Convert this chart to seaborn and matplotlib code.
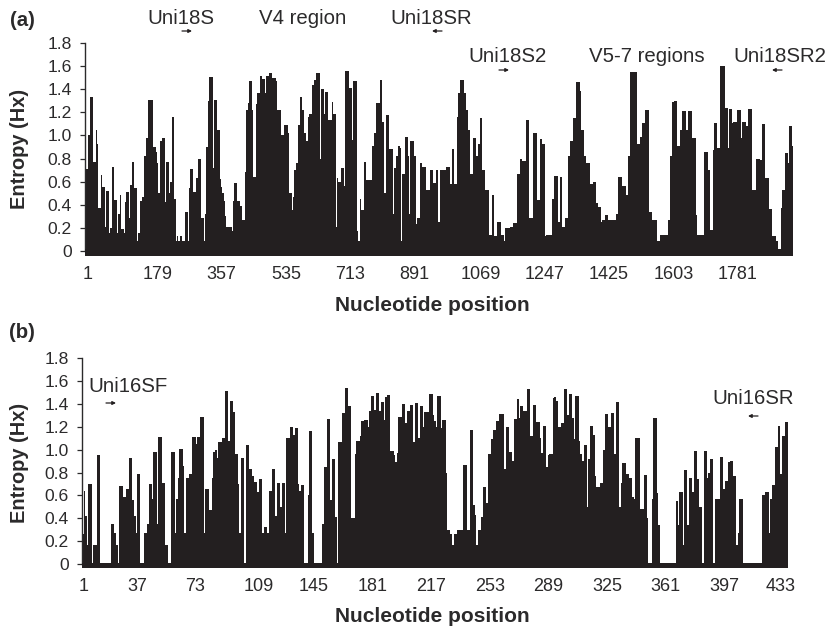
import matplotlib
matplotlib.use("Agg")
import matplotlib.pyplot as plt
import pandas as pd
import seaborn as sns

# 18S entropy, left to right
entropy_18s = [
    .71, .71, 1.0, 1.0, 1.33, 1.33, .77, .77, 1.05, .93, .37, .37, .66, .55, .55, .21, .52, .52, .15, .2, .73, .73, .44, .44, .15,
    .32, .48, .19, .19, .15, .42, .51, .51, .28, .57, .77, .77, .54, .54, .08, .15, .43, .43, .47, .82, .82, .98, 1.31, 1.31, 1.31,
    1.31, .9, .9, .86, .76, .5, .95, .95, .98, .98, .42, .77, .77, .5, .6, 1.16, 1.16, .45, .08, .13, .08, .13, .13, .08, .08,
    .34, .34, .08, .54, .71, .71, .51, .51, .63, .63, .8, .8, .28, .28, .08, .32, .9, 1.3, 1.51, 1.51, 1.51, .72, 1.31, 1.31, 1.05,
    1.05, .62, .55, .5, .43, .3, .21, .21, .21, .21, .17, .43, .59, .59, .43, .43, .39, .39, .27, .27, .68, 1.22, 1.28, 1.47, 1.47,
    1.22, .64, .64, 1.27, 1.37, 1.37, 1.52, 1.52, 1.49, 1.49, 1.37, 1.52, 1.52, 1.54, 1.54, 1.5, 1.5, 1.5, 1.47, 1.22, 1.22, 1.22, 1.0, 1.0, 1.09,
    1.09, 1.09, 1.02, .5, .5, .35, .47, .7, .76, .76, 1.09, 1.33, 1.33, 1.22, 1.02, 1.02, .95, 1.16, 1.19, 1.19, 1.44, 1.44, 1.48, 1.54, 1.54,
    1.54, .8, 1.4, 1.4, 1.19, 1.38, 1.38, 1.13, 1.13, 1.13, 1.29, 1.19, 1.19, .21, .63, .6, .6, .72, .72, .56, 1.56, 1.56, 1.56, 1.41, 1.41,
    .96, 1.47, 1.47, 1.47, .17, .08, .45, .35, .35, .77, .77, .61, .61, .61, .61, .91, .91, 1.02, 1.28, 1.28, 1.28, 1.48, 1.48, 1.12, .5,
    .5, 1.18, 1.18, .88, .88, .88, .32, .72, .82, .82, .91, .89, .08, .67, .67, .99, .99, .82, .32, .95, .95, .95, .82, .23, .28,
    .28, .76, .76, .73, .73, .73, .53, .53, .53, .7, .7, .59, .59, .7, .7, .25, .7, .7, .7, .7, .7, .73, .73, .73, .58,
    .88, .88, .58, .58, 1.16, 1.37, 1.48, 1.48, 1.48, 1.37, 1.37, 1.22, 1.05, 1.05, .67, .67, .98, .98, .82, .82, .93, 1.15, 1.15, .7, .7,
    .53, .53, .53, .14, .14, .48, .48, .13, .13, .25, .25, .25, .14, .14, .08, .2, .2, .2, .2, .21, .21, .24, .24, .24, .67,
    .67, .8, .8, .78, .78, .78, 1.13, 1.13, .28, .28, .28, 1.02, 1.02, 1.02, .44, .44, .97, .97, .93, .93, .13, .14, .14, .14, .14,
    .45, .45, .65, .65, .65, .25, .64, .64, .21, .21, .28, .28, .82, .82, .95, .95, 1.15, 1.15, 1.46, 1.46, 1.46, 1.39, 1.05, 1.05, .82,
    .82, .76, .76, .76, .58, .58, .6, .6, .41, .41, .38, .38, .25, .27, .27, .31, .31, .27, .27, .27, .27, .27, .27, .32, .32,
    .64, .64, .64, .56, .56, .56, .48, .82, .82, 1.55, 1.55, 1.55, 1.55, 1.55, .93, .93, .99, .99, 1.11, 1.11, 1.22, 1.22, 1.22, .34, .34,
    .27, .27, .27, .27, .08, .08, .14, .14, .14, .14, .14, .14, .27, .27, .82, 1.29, 1.29, 1.3, 1.3, .91, .91, 1.05, 1.05, 1.21, 1.21,
    1.21, 1.05, 1.21, 1.21, 1.21, .98, .98, .98, .31, .14, .14, .14, .14, .14, .86, .86, .86, .7, .7, .18, .18, .87, 1.11, 1.11, .89,
    .89, 1.6, 1.6, 1.6, 1.6, 1.24, 1.24, .89, 1.23, 1.23, 1.11, 1.12, 1.12, 1.12, 1.22, 1.22, 1.22, .98, 1.12, 1.12, 1.12, 1.08, 1.23, 1.23, 1.23,
    .53, .53, .53, .8, .8, .8, .79, .79, 1.1, 1.1, .63, .63, .63, .36, .36, .13, .13, .13, .08, .08, .01, .01, .37, .53, .53,
    .85, .85, .76, 1.08, 1.08, .91,
]

# 16S entropy, one value per nucleotide
entropy_16s_start = [
    .26, .64, .42, .17, .70, .70, 0, .17, .17, .95, .95, 0, 0, 0, 0, 0, 0, 0, .35, .35, .27, .17, 0, .68, .68, .59, .59, .66, .66, .93,
    .93, .56, .42, .27, .79, .79, 0, 0, .27, .27, .35, .70, .70, .57, .98, .98, .35, 1.11, 1.11, .71, .71, .17, .17, 0, 0, .98, .98, .27, .57, .75,
    1.01, 1.01, .86, .27, .75, .75, .79, .79, 1.11, 1.11, 1.05, 1.11, 1.11, 1.29, 1.29, .27, .66, .66, .47, .47, .75, .98, 1.0, .93, 1.07, 1.07, 1.1, 1.1, 1.51, 1.51,
    1.08, 1.43, 1.43, 1.33, .96, .96, .70, .27, .93, .93, 0, 1.04, 1.04, .83, .83, .77, .72, .72, .63, .74, .74, .27, .32, .32, .27, .64, .64, .83, .83, .42,
    .71, .71, .5, .71, .71, .27, 1.10, 1.10, 1.20, 1.20, 1.13, 1.19, 1.19, .70, .64, .69, .69, 0, 0, .60,
]
entropy_16s_middle = [
    1.16, 1.16, .27, 0, 0, 0, 0, 0, .35, .85, .85, 1.27, 1.27, .56, .92, .92, .41, 0, 1.07, 1.07, 1.32, 1.32, 1.54, 1.54, 1.38, 1.38, .40, .40, .96, 1.08,
    1.08, 1.12, 1.25, 1.25, 1.26, 1.26, 1.2, 1.34, 1.47, 1.47, 1.35, 1.5, 1.5, 1.34, 1.42, 1.42, 1.26, 1.46, 1.48, 1.48, .99, .99, .95, .89, .97, 1.29, 1.29, 1.4, 1.4, 1.23,
    1.34, 1.34, 1.39, 1.39, 1.07, 1.41, 1.41, 1.1, 1.38, 1.38, 1.2, 1.33, 1.33, 1.33, 1.49, 1.49, 1.3, 1.25, 1.2, 1.47, 1.47, 1.19, 1.26, 1.26, .8, .3, .3, .26, .17, .26,
    .26, .3, .3, .3, .3, .87, .87, .3, .3, 1.17, 1.17, .52, .43, .17, .3, .3, .41, .67, .67, .53, .96, .96, 1.09, 1.17, 1.17, 1.25, 1.25, 1.31, 1.31, 1.31,
    .83, 1.2, 1.2, .98, .98, .9, 1.27, 1.27, 1.44, 1.28, 1.38, 1.38, 1.34, 1.34, 1.53, 1.53, 1.12, 1.12, 1.39, 1.39, 1.24, 1.24, 1.1, .97, 1.21, 1.21, .85, .95,
]
entropy_16s_end = [
    .96, .96, 1.45, 1.46, 1.43, 1.2, 1.2, 1.23, 1.23, 1.53, 1.53, 1.3, 1.49, 1.49, 1.28, 1.09, 1.47, 1.47, 1.08, .96, .9, 1.04, 1.04, .5, .92, 1.21, 1.21, 1.13, .77, .67,
    .67, .71, .71, 1.0, 1.31, 1.31, 1.2, 1.2, 1.32, 1.32, .96, 1.42, 1.42, .5, .71, .88, .88, .79, .79, .75, .75, .59, .57, 1.1, 1.1, 1.1, .48, .48, .78, .78,
    .4, 0, 0, .57, 1.28, 1.28, .62, .34, 0, 0, 0, 0, 0, 0, 0, 0, 0, 0, .55, .34, .63, .63, .17, .82, .82, .34, .75, .75, .63, .99,
    .99, .74, .5, .5, 0, .99, .99, .75, .8, .92, .92, 0, .57, .57, .57, .94, .94, .66, .73, .73, .89, .9, .9, .77, .77, .17, .27, .57, .57, 0,
    0, 0, 0, 0, 0, 0, 0, 0, 0, 0, 0, .6, .6, .63, .63, .27, .57, .69, .69, 1.02, 1.02, 1.21, .79, 1.12, 1.12, 1.24, 1.24,
]
entropy_16s = entropy_16s_start + entropy_16s_middle + entropy_16s_end

ticks_18s = [1, 179, 357, 535, 713, 891, 1069, 1247, 1425, 1603, 1781]
ticks_16s = [1, 37, 73, 109, 145, 181, 217, 253, 289, 325, 361, 397, 433]
entropy_ticks = [0, 0.2, 0.4, 0.6, 0.8, 1.0, 1.2, 1.4, 1.6, 1.8]
entropy_labels = ["0", "0.2", "0.4", "0.6", "0.8", "1.0", "1.2", "1.4", "1.6", "1.8"]

W, H = 835, 630
DARK = "#231f20"
TEXT = "#2b2a2b"

sns.set_theme(style="ticks")
plt.rcParams["font.family"] = ["Liberation Sans", "DejaVu Sans"]
plt.rcParams["text.color"] = TEXT


def entropy_panel(fig, values, ticks, tick_px, left, right, top, bottom, ymin):
    ax = fig.add_axes([left / W, 1 - bottom / H, (right - left) / W, (bottom - top) / H])
    df = pd.DataFrame({"bar": range(len(values)), "entropy": values})
    sns.barplot(data=df, x="bar", y="entropy", color=DARK, saturation=1, width=1.0,
                linewidth=0, ax=ax)
    n = len(values)
    ax.set_xlim(-0.5, n - 0.5)
    ax.set_ylim(ymin, 1.8)
    # thick band under the bars, it goes a bit below zero in the original
    ax.axhspan(ymin, 0.012, color=DARK, lw=0, zorder=3)
    ax.set_xticks([(p - left) / (right - left) * n - 0.5 for p in tick_px], [str(t) for t in ticks])
    ax.set_yticks(entropy_ticks, entropy_labels)
    ax.tick_params(axis="x", length=0, pad=7.2, labelsize=13, labelcolor=TEXT)
    ax.tick_params(axis="y", length=3.8, width=0.9, pad=5.5, labelsize=12.6, labelcolor=TEXT, color=TEXT)
    ax.spines["top"].set_visible(False)
    ax.spines["right"].set_visible(False)
    ax.spines["bottom"].set_visible(False)
    ax.spines["left"].set_bounds(0, 1.8)
    ax.spines["left"].set_linewidth(1.0)
    ax.spines["left"].set_color(TEXT)
    ax.set_xlabel("")
    ax.set_ylabel("")
    return ax


def label(fig, x, y, s, **kw):
    fig.text(x / W, 1 - y / H, s, ha=kw.pop("ha", "center"), va="center", fontsize=kw.pop("fontsize", 14.7), **kw)


def arrow(ax, x, y, direction):
    ax.annotate("", xy=(x + 5 * direction, H - y), xytext=(x - 5 * direction, H - y),
                xycoords="figure pixels", textcoords="figure pixels", annotation_clip=False,
                arrowprops=dict(arrowstyle="-|>", color=DARK, lw=0.9, mutation_scale=5,
                                shrinkA=0, shrinkB=0))


fig = plt.figure(figsize=(W / 100, H / 100), dpi=100)

px_a = [88, 158, 221, 286, 350, 414, 481, 545, 609, 674, 738]
ax_a = entropy_panel(fig, entropy_18s, ticks_18s, px_a, 85, 793, 43.3, 256, -0.046)
px_b = [84, 137, 195, 259, 314, 373, 431, 490, 548, 607, 665, 724, 781]
ax_b = entropy_panel(fig, entropy_16s, ticks_16s, px_b, 82, 788, 358.3, 567.7, -0.033)

label(fig, 22, 21, "(a)", fontweight="bold")
label(fig, 22, 333, "(b)", fontweight="bold")
label(fig, 20, 149, "Entropy (Hx)", fontweight="bold", rotation=90, fontsize=14.4)
label(fig, 20, 463, "Entropy (Hx)", fontweight="bold", rotation=90, fontsize=14.4)
label(fig, 432, 305, "Nucleotide position", fontweight="bold", fontsize=15)
label(fig, 432, 617, "Nucleotide position", fontweight="bold", fontsize=15)

label(fig, 181, 19, "Uni18S")
label(fig, 303, 19, "V4 region")
label(fig, 431, 19, "Uni18SR")
label(fig, 508, 57, "Uni18S2")
label(fig, 647, 57, "V5-7 regions")
label(fig, 780, 57, "Uni18SR2")
label(fig, 128, 387, "Uni16SF")
label(fig, 753, 399, "Uni16SR")

arrow(ax_a, 187, 31, 1)
arrow(ax_a, 437, 31, -1)
arrow(ax_a, 504, 70, 1)
arrow(ax_a, 777, 70, -1)
arrow(ax_b, 111, 403, 1)
arrow(ax_b, 753, 416, -1)

fig.savefig("out.png", dpi=100)
